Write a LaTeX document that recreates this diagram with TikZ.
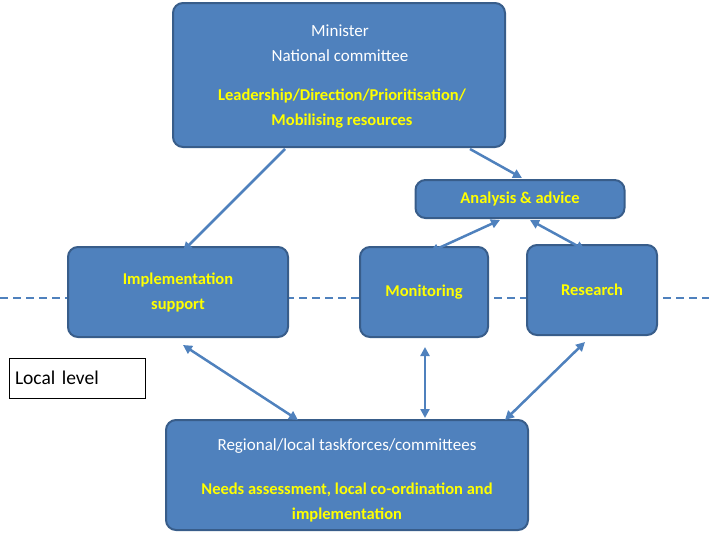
\documentclass[tikz,border=0pt]{standalone}
\usepackage{fontspec}
\setmainfont{Carlito}
\usetikzlibrary{arrows.meta}
\definecolor{bfill}{HTML}{4F81BD}
\definecolor{bdraw}{HTML}{385D8A}
\definecolor{yel}{HTML}{FFFF00}
\begin{document}
\begin{tikzpicture}[x=1pt,y=-1pt,
  box/.style={draw=bdraw,line width=2pt,fill=bfill,rounded corners=10pt,text=white,align=center},
  reg/.style={text=white,align=center,font=\fontsize{17}{25}\selectfont},
  yb/.style={text=yel,align=center,font=\bfseries\fontsize{16.5}{25}\selectfont},
  conn/.style={draw=bfill,line width=2.5pt,-{Triangle[length=9pt,width=9pt]}},
  dconn/.style={draw=bfill,line width=2.5pt,{Triangle[length=9pt,width=9pt]}-{Triangle[length=9pt,width=9pt]}}]
\useasboundingbox (0,0) rectangle (709,538);
\draw[bfill,line width=2pt,dash pattern=on 8pt off 5pt] (0,298) -- (709,298);
\node[box,minimum width=332pt,minimum height=144pt] (top) at (339,75) {};
\node[reg] (toptxt) at (340,43) {Minister\\National committee};
\node[yb] (topy) at (342,109) {Leadership/Direction/Prioritisation/\\Mobilising resources};
\node[box,minimum width=209pt,minimum height=38pt,yb] (an) at (520,199) {Analysis \& advice};
\node[box,minimum width=220pt,minimum height=90pt,yb] (imp) at (178,292) {Implementation\\support};
\node[box,minimum width=128pt,minimum height=90pt,yb] (mon) at (424,292) {Monitoring};
\node[box,minimum width=130pt,minimum height=90pt,yb] (res) at (592,290) {Research};
\node[box,minimum width=362pt,minimum height=110pt] (bot) at (347,475) {};
\node[reg] (bottxt) at (347,446) {Regional/local taskforces/committees};
\node[yb] (boty) at (347,502) {Needs assessment, local co-ordination and\\implementation};
\node[draw=black,fill=white,line width=0.8pt,minimum width=136pt,minimum height=40pt,text width=124pt,align=left,font=\fontsize{19.5}{22}\selectfont] (loc) at (77,378) {Local level};
\draw[conn] (285,149) -- (183,251);
\draw[conn] (470,149) -- (522,178);
\draw[dconn] (500,220) -- (430,252);
\draw[dconn] (530,220) -- (585,250);
\draw[dconn] (183,345) -- (298,420);
\draw[dconn] (425,347) -- (425,418);
\draw[dconn] (585,342) -- (505,420);
\end{tikzpicture}
\end{document}
